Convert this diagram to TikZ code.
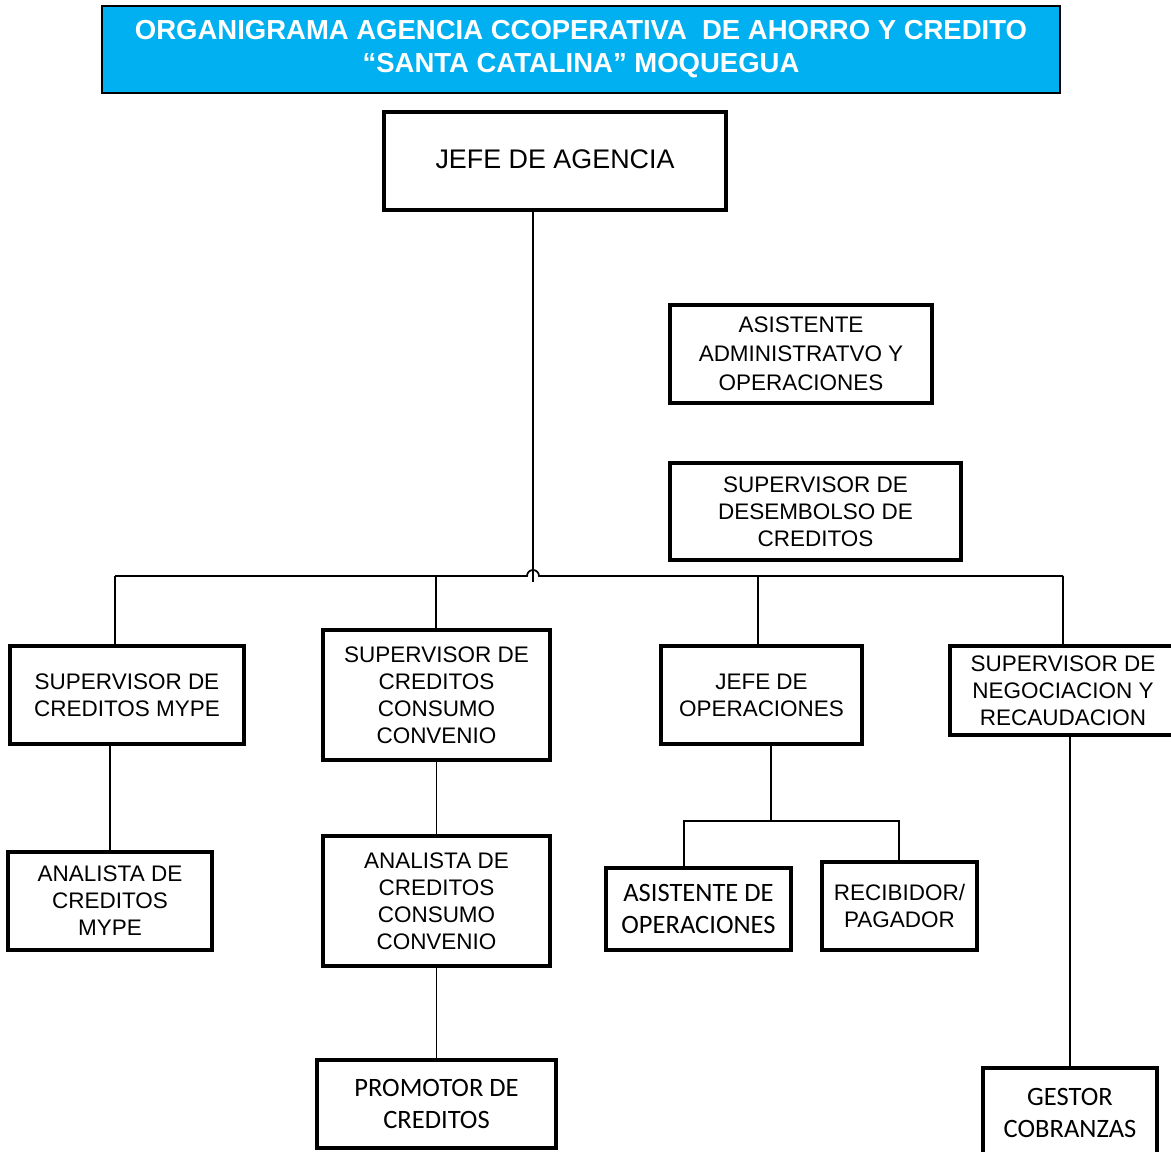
\documentclass[tikz,border=0pt]{standalone}
\usepackage{fontspec}
\setmainfont{Liberation Sans}
\newfontfamily\calfont{Carlito}
\usetikzlibrary{calc}

\definecolor{titulo}{HTML}{00B0F0}

\tikzset{
    puesto/.style={draw, line width=2.2pt, align=center, inner sep=0pt,
        font=\fontsize{12.8}{15.4}\selectfont},
    puestocal/.style={puesto, font=\calfont\fontsize{15.1}{18.7}\selectfont},
    linea/.style={line width=1pt}
}

\begin{document}
\begin{tikzpicture}[x=0.02cm, y=-0.02cm]
    \useasboundingbox (0,0) rectangle (1171,1152);

    % titulo
    \node (titulo) [draw, fill=titulo, line width=0.8pt, minimum width=19.16cm, minimum height=1.74cm,
        text=white, align=center, font=\bfseries\fontsize{15.65}{18.9}\selectfont] at (581,49.5)
        {\raisebox{-3pt}{ORGANIGRAMA AGENCIA CCOPERATIVA\ \ DE AHORRO Y CREDITO}\\
         \raisebox{-3pt}{``SANTA CATALINA'' MOQUEGUA}};

    % puestos
    \node (jefe) [puesto, minimum width=6.84cm, minimum height=1.96cm,
        font=\fontsize{15.3}{17}\selectfont] at (555,161) {\raisebox{2pt}{JEFE DE AGENCIA}};
    \node (asist) [puesto, minimum width=5.24cm, minimum height=1.96cm,
        font=\fontsize{12.8}{16.4}\selectfont] at (801,354) {ASISTENTE\\ADMINISTRATVO Y\\OPERACIONES};
    \node (desemb) [puesto, minimum width=5.82cm, minimum height=1.94cm] at (815.5,511.5)
        {SUPERVISOR DE\\DESEMBOLSO DE\\CREDITOS};

    \node (supmype) [puesto, minimum width=4.68cm, minimum height=1.96cm] at (127,695)
        {SUPERVISOR DE\\CREDITOS MYPE};
    \node (supcons) [puesto, minimum width=4.54cm, minimum height=2.6cm] at (436.5,695)
        {SUPERVISOR DE\\CREDITOS\\CONSUMO\\CONVENIO};
    \node (jefeop) [puesto, minimum width=4.02cm, minimum height=1.96cm] at (761.5,695)
        {JEFE DE\\OPERACIONES};
    \node (supneg) [puesto, minimum width=4.52cm, minimum height=1.78cm] at (1063,690.5)
        {SUPERVISOR DE\\NEGOCIACION Y\\RECAUDACION};

    \node (anamype) [puesto, minimum width=4.08cm, minimum height=1.96cm] at (110,901)
        {ANALISTA DE\\CREDITOS\\MYPE};
    \node (anacons) [puesto, minimum width=4.54cm, minimum height=2.6cm] at (436.5,901)
        {ANALISTA DE\\CREDITOS\\CONSUMO\\CONVENIO};
    \node (promotor) [puestocal, minimum width=4.78cm, minimum height=1.76cm] at (436.5,1104)
        {PROMOTOR DE\\CREDITOS};
    \node (asisop) [puestocal, minimum width=3.7cm, minimum height=1.64cm] at (698.5,909)
        {ASISTENTE DE\\OPERACIONES};
    \node (recib) [puesto, minimum width=3.1cm, minimum height=1.76cm] at (899.5,906)
        {RECIBIDOR/\\PAGADOR};
    \node (gestor) [puestocal, minimum width=3.48cm, minimum height=1.8cm] at (1070,1113)
        {GESTOR\\COBRANZAS};

    % conectores
    \coordinate (hop) at (533,576);
    \coordinate (b1) at (115,576);
    \coordinate (b2) at (436,576);
    \coordinate (b3) at (758,576);
    \coordinate (b4) at (1063,576);
    \coordinate (op) at (771,821);
    \coordinate (c1) at (684,821);
    \coordinate (c2) at (899,821);

    \begin{scope}[linea]
        \draw (jefe.south -| hop) -- (hop) -- ++(0,6);
        \draw (b1) -- ($(hop)+(-6,0)$) arc (180:360:6) -- (b4);
        \foreach \b/\n in {b1/supmype, b2/supcons, b3/jefeop, b4/supneg}{%
            \draw (\b) -- (\b |- \n.north);
        }
        \draw (anamype.north) -- (anamype.north |- supmype.south);
        \draw (supcons.south) -- (anacons.north);
        \draw (anacons.south) -- (promotor.north);
        \draw (op |- jefeop.south) -- (op);
        \draw (c1 |- asisop.north) -- (c1) -- (c2) -- (c2 |- recib.north);
        \draw (gestor.north) -- (gestor.north |- supneg.south);
    \end{scope}

\end{tikzpicture}
\end{document}
